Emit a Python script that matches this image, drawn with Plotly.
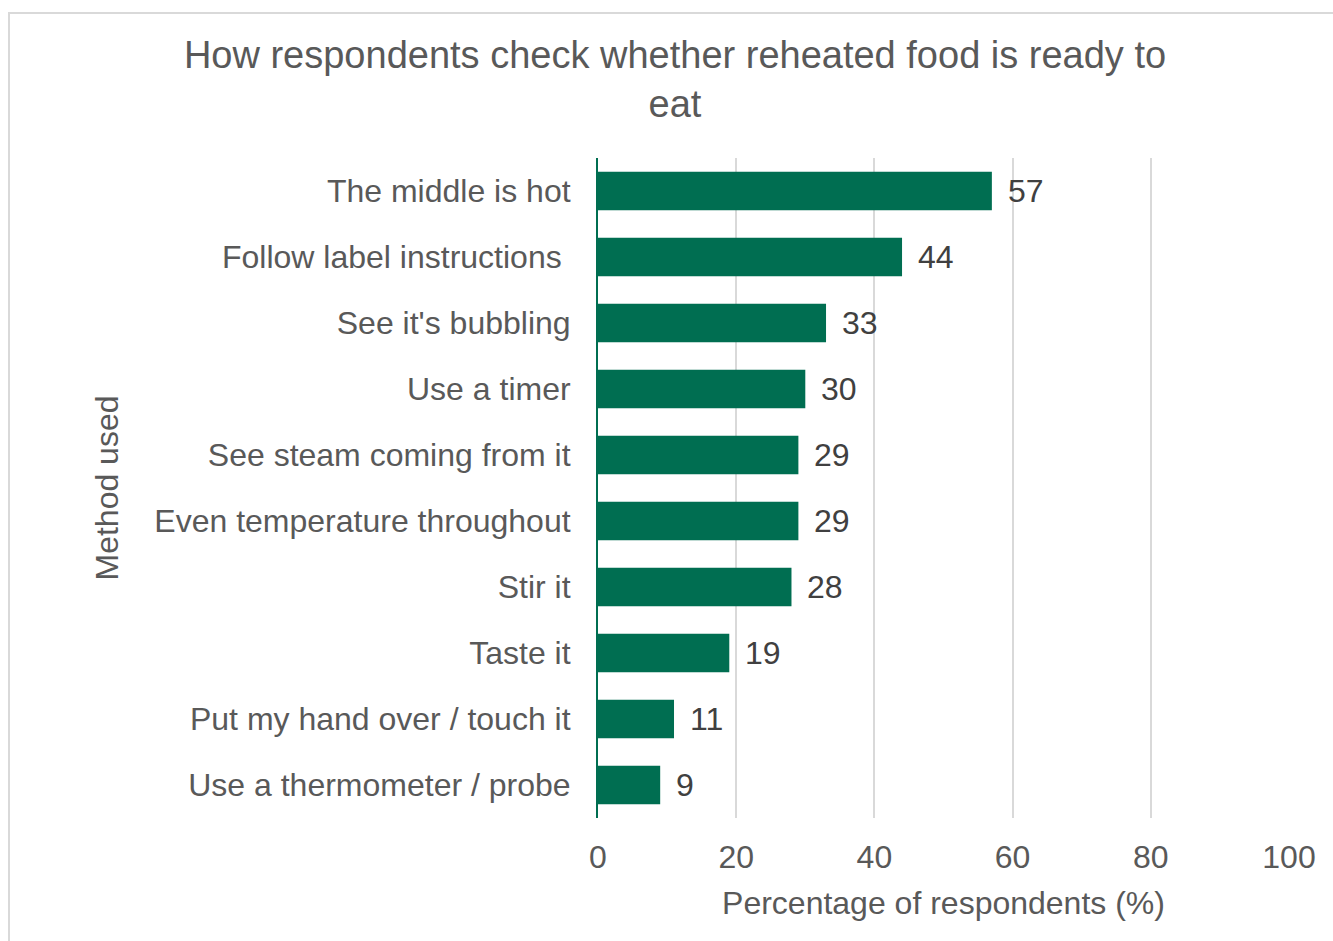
import plotly.graph_objects as go

# Survey results: methods used to check reheated food
methods = [
    "The middle is hot",
    "Follow label instructions\u00a0",
    "See it's bubbling",
    "Use a timer",
    "See steam coming from it",
    "Even temperature throughout",
    "Stir it",
    "Taste it",
    "Put my hand over / touch it",
    "Use a thermometer / probe",
]
percentages = [57, 44, 33, 30, 29, 29, 28, 19, 11, 9]
x_ticks = [0, 20, 40, 60, 80, 100]

W, H = 1333, 941
ML, MR, MT, MB = 598, 44, 158, 123
PW, PH = W - ML - MR, H - MT - MB

BAR = "#006E51"
TEXT = "#595959"
LABEL = "#404040"
FONT = "Liberation Sans, Arial, sans-serif"

fig = go.Figure(
    go.Bar(
        x=percentages,
        y=methods,
        orientation="h",
        marker=dict(color=BAR, line=dict(width=0)),
        hoverinfo="x+y",
    )
)

# value labels just past each bar end
for m, v in zip(methods, percentages):
    fig.add_annotation(
        x=v, y=m, xref="x", yref="y", text=str(v), showarrow=False,
        xanchor="left", yanchor="middle", xshift=14,
        font=dict(size=32, color=LABEL, family=FONT),
    )

# light frame around the chart area
def px_to_paper_x(px):
    return (px - ML) / PW

def px_to_paper_y(py):
    return (H - MB - py) / PH

fig.add_shape(
    type="rect", xref="paper", yref="paper",
    x0=px_to_paper_x(9), x1=px_to_paper_x(W + 20),
    y0=px_to_paper_y(H + 20), y1=px_to_paper_y(13),
    line=dict(color="#D9D9D9", width=2), fillcolor="rgba(0,0,0,0)", layer="below",
)

fig.update_layout(
    width=W, height=H,
    margin=dict(l=ML, r=MR, t=MT, b=MB, pad=0),
    paper_bgcolor="white", plot_bgcolor="white",
    font=dict(family=FONT, color=TEXT, size=32),
    bargap=0.42,
    showlegend=False,
    title=dict(
        text="How respondents check whether reheated food is ready to<br>eat",
        x=675 / W, xref="container", xanchor="center",
        y=1 - 68 / H, yref="container", yanchor="middle",
        font=dict(size=38, color=TEXT, family=FONT),
    ),
    xaxis=dict(
        range=[0, 100], tickvals=x_ticks, ticktext=[str(t) for t in x_ticks],
        showgrid=True, gridcolor="#D9D9D9", gridwidth=2,
        zeroline=False, showline=False, ticks="",
        ticklabelstandoff=17,
        tickfont=dict(size=32, color=TEXT),
        title=dict(text="Percentage of respondents (%)", standoff=17,
                   font=dict(size=32, color=TEXT)),
        fixedrange=True,
    ),
    yaxis=dict(
        autorange="reversed", showgrid=False, zeroline=False,
        showline=True, linecolor=BAR, linewidth=2, ticks="",
        ticklabelstandoff=19,
        tickfont=dict(size=32, color=TEXT),
        title=dict(text="Method used", standoff=26,
                   font=dict(size=32, color=TEXT)),
        fixedrange=True,
    ),
)

fig.write_html("out.html")
